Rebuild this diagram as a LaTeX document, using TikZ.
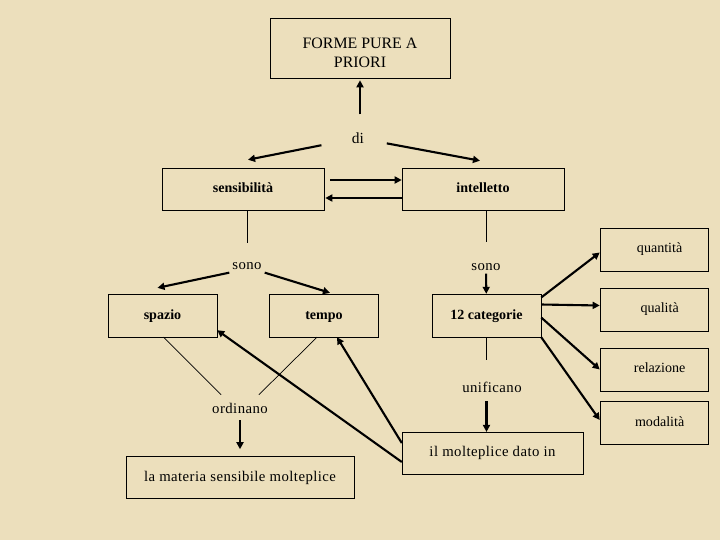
\documentclass[tikz,border=0pt]{standalone}
\usepackage{fontspec}
\setmainfont{Liberation Serif}
\newfontfamily\spacedfont[LetterSpace=3]{Liberation Serif}
\usetikzlibrary{positioning}
\usetikzlibrary{calc}
\usetikzlibrary{arrows.meta}
\definecolor{parchment}{RGB}{236,223,188}

\begin{document}
\begin{tikzpicture}
	    [x=0.025cm, y=-0.025cm,
	    >={Triangle[length=5pt,width=5pt]},
	    box/.style={draw, minimum width=4.05cm, minimum height=1.05cm, inner sep=2pt, text height=1.6ex, text depth=0.4ex, font=\fontsize{10}{12}\selectfont\bfseries},
	    smallbox/.style={draw, minimum width=2.72cm, minimum height=1.07cm, inner sep=2pt, text height=1.6ex, text depth=0.4ex, font=\fontsize{10}{12}\selectfont\bfseries},
	    catbox/.style={draw, minimum width=2.7cm, minimum height=1.07cm, inner sep=2pt, text height=1.6ex, text depth=0.6ex, font=\fontsize{10}{12}\selectfont},
	    textbox/.style={draw, minimum height=1.04cm, inner sep=2pt, text height=1.6ex, text depth=0.4ex, font=\fontsize{10.5}{12}\spacedfont},
	    lbl/.style={inner sep=2pt, font=\fontsize{10.5}{12}\spacedfont},
	    arr/.style={->, line width=1.5pt},
	    thinline/.style={line width=0.5pt}]
	     \fill[parchment] (0,0) rectangle (720,540);
	     \useasboundingbox (0,0) rectangle (720,540);
	     \node[draw, minimum width=4.5cm, minimum height=1.5cm, align=center, font=\fontsize{11.3}{13.5}\selectfont] (forme) at (360,48) {\rule{0pt}{15pt}FORME PURE A\\PRIORI};
	     \node[lbl, font=\fontsize{11}{12}\selectfont] (di) at (358,138) {di};
	     \node[box] (sens) at (243,189) {sensibilità};
	     \node[box] (intel) at (483,189) {intelletto};
	     \node[lbl] (sono1) at (247,266) {sono};
	     \node[lbl] (sono2) at (486,267) {sono};
	     \node[smallbox] (spazio) at (162.5,315.5) {spazio};
	     \node[smallbox] (tempo) at (324,315.5) {tempo};
	     \node[smallbox] (cat) at (486.5,315.5) {12 categorie};
	     \node[catbox] (quant) at (654,249.5) {\hspace{8pt}quantità};
	     \node[catbox] (qual) at (654,309.5) {\hspace{8pt}qualità};
	     \node[catbox] (rel) at (654,369.5) {\hspace{8pt}relazione};
	     \node[catbox] (mod) at (654,423) {\hspace{8pt}modalità};
	     \node[lbl] (ordinano) at (240,408) {ordinano};
	     \node[lbl] (unif) at (492,387) {unificano};
	     \node[textbox, minimum width=5.7cm] (materia) at (240,477.5) {la materia sensibile molteplice};
	     \node[textbox, minimum width=4.52cm] (dato) at (492.5,453) {il molteplice dato in};
	     % di
	     \draw[arr, shorten <=0.38cm, shorten >=0.05cm] (forme.south |- di.north) -- (forme.south);
	     \draw[arr, shorten <=0.7cm] (di) -- ([shift={(5,-8)}]sens.north);
	     \draw[arr, shorten <=0.5cm] (di) -- ([shift={(-3,-7)}]intel.north);
	     \draw[arr] ([shift={(6,-9)}]sens.east) -- ([shift={(0,-9)}]intel.west);
	     \draw[arr] ([shift={(0,9)}]intel.west) -- ([shift={(1,9)}]sens.east);
	     % sono
	     \draw[thinline, shorten >=0.4cm] (sono1.north |- sens.south) -- (sono1.north);
	     \draw[arr] (sono1.south west) -- ([shift={(-5,-6)}]spazio.north);
	     \draw[arr] (sono1.south east) -- ([shift={(6,-1)}]tempo.north);
	     \draw[thinline, shorten >=0.47cm] (sono2.north |- intel.south) -- (sono2.north);
	     \draw[arr] (sono2) -- (cat);
	     % categorie
	     \draw[arr] ([shift={(0,-18)}]cat.east) -- ([shift={(0,3)}]quant.west);
	     \draw[arr] ([shift={(0,-11)}]cat.east) -- ([shift={(0,-4)}]qual.west);
	     \draw[arr] ([shift={(0,2)}]cat.east) -- (rel.west);
	     \draw[arr] (cat.south east) -- ([shift={(0,-3)}]mod.west);
	     % unificano
	     \draw[thinline, shorten >=0.47cm] (cat.south) -- (cat.south |- unif.north);
	     \draw[arr, shorten <=0.15cm] (cat.south |- unif.south) -- (cat.south |- dato.north);
	     % ordinano
	     \draw[thinline] ([shift={(1,0)}]spazio.south) -- ([shift={(12,-5)}]ordinano.north west);
	     \draw[thinline] ([shift={(-7,0)}]tempo.south) -- ([shift={(-12,-5)}]ordinano.north east);
	     \draw[arr, shorten <=0.1cm, shorten >=0.18cm] (ordinano) -- (materia);
	     % dato
	     \draw[arr] ([shift={(0,9)}]dato.west) -- ([shift={(0,-7)}]spazio.south east);
	     \draw[arr] ([shift={(0,-10)}]dato.west) -- ([shift={(13,0)}]tempo.south);
	\end{tikzpicture}
\end{document}
